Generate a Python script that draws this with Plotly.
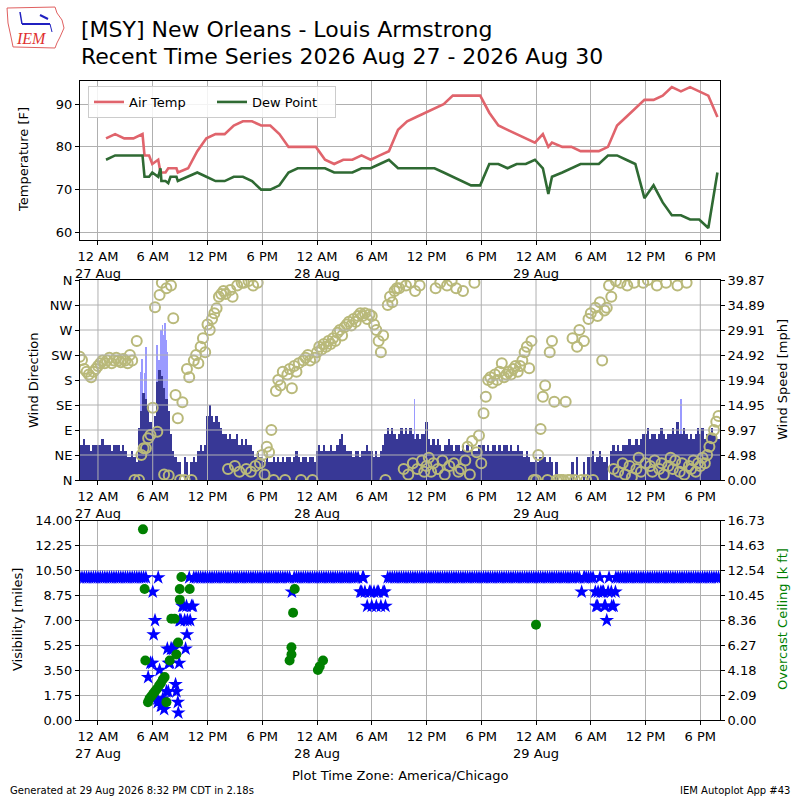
import numpy as np
import pandas as pd
import plotly.graph_objects as go

BASE = pd.Timestamp("2026-08-27 00:00")

# ---------------- data ----------------
# hours after 27 Aug 00:00 (America/Chicago)
temp_hours = [0.88, 1.88, 2.88, 3.88, 4.88, 5.1, 5.6, 5.95, 6.6, 6.85, 6.95, 7.4, 7.7, 7.95, 8.6, 8.75,
              9.88, 10.88, 11.88, 12.88, 13.88, 14.88, 15.88, 16.88, 17.88, 18.88, 19.88, 20.88, 21.88,
              22.88, 23.88, 24.88, 25.88, 26.88, 27.88, 28.88, 29.88, 30.88, 31.88, 32.88, 33.88, 34.88,
              35.88, 36.88, 37.88, 38.88, 39.88, 40.88, 41.88, 42.88, 43.88, 44.88, 45.88, 46.88, 47.88,
              48.75, 49.35, 49.75, 50.88, 51.88, 52.88, 53.88, 54.88, 55.88, 56.88, 57.88, 58.88, 59.88,
              60.88, 61.88, 62.88, 63.88, 64.88, 65.88, 66.88, 67.88]
air_temp = [82, 83, 82, 82, 83, 78, 78, 76, 77, 74, 74, 74, 75, 75, 75, 74,
            75, 79, 82, 83, 83, 85, 86, 86, 85, 85, 83, 80, 80,
            80, 80, 77, 76, 77, 77, 78, 77, 78, 79, 84, 86, 87,
            88, 89, 90, 92, 92, 92, 92, 88, 85, 84, 83, 82, 81,
            83, 80, 81, 80, 80, 79, 79, 79, 80, 85, 87, 89, 91,
            91, 92, 94, 93, 94, 93, 92, 87]
dew_point = [77, 78, 78, 78, 78, 73, 73, 74, 73, 75, 72, 72, 71.5, 73, 73, 72,
             73, 74, 73, 72, 72, 73, 73, 72, 70, 70, 71, 74, 75,
             75, 75, 75, 74, 74, 74, 75, 75, 76, 77, 75, 75, 75,
             75, 75, 74, 73, 72, 71, 71, 76, 76, 75, 76, 76, 77,
             75, 69, 73, 74, 75, 76, 76, 76, 78, 78, 77, 76, 68,
             71, 67, 64, 64, 63, 63, 61, 74]

# wind observations every 15 minutes, one row per hour starting 26 Aug 22:00 (hour -2)
wind_start_hour = -2
wind_speed_rows = [
    [6.9, 6.9, 8.1, 6.9], [6.9, 5.8, 6.9, 6.9], [6.9, 6.9, 8.1, 6.9], [6.9, 6.9, 5.8, 6.9],
    [6.9, 6.9, 5.8, 6.9], [5.8, 4.6, 4.6, 5.8], [4.6, 3.5, 10.4, 13.8], [17.3, 16.1, 14.9, 11.5],
    [10.4, 12.7, 19.6, 21.9], [20.7, 18.4, 16.1, 13.8], [9.2, 5.8, 4.6, 3.5], [3.5, 0, 4.6, 3.5],
    [0, 3.5, 4.6, 3.5], [5.8, 6.9, 5.8, 6.9], [12.7, 14.9, 12.7, 11.5], [12.7, 11.5, 10.4, 9.2],
    [9.2, 8.1, 9.2, 8.1], [8.1, 9.2, 6.9, 8.1], [6.9, 8.1, 6.9, 6.9], [5.8, 4.6, 5.8, 4.6],
    [4.6, 3.5, 4.6, 3.5], [3.5, 4.6, 3.5, 4.6], [3.5, 4.6, 3.5, 4.6], [4.6, 3.5, 4.6, 5.8],
    [4.6, 3.5, 4.6, 4.6], [3.5, 4.6, 4.6, 3.5], [5.8, 6.9, 5.8, 6.9], [5.8, 5.8, 6.9, 5.8],
    [5.8, 6.9, 8.1, 9.2], [6.9, 5.8, 5.8, 5.8], [4.6, 5.8, 5.8, 4.6], [5.8, 5.8, 6.9, 5.8],
    [5.8, 4.6, 5.8, 4.6], [5.8, 6.9, 9.2, 10.4], [9.2, 10.4, 9.2, 8.1], [9.2, 10.4, 9.2, 10.4],
    [9.2, 10.4, 9.2, 8.1], [9.2, 8.1, 9.2, 9.2], [11.5, 8.1, 6.9, 8.1], [6.9, 8.1, 6.9, 5.8],
    [6.9, 6.9, 8.1, 6.9], [5.8, 6.9, 6.9, 5.8], [6.9, 5.8, 6.9, 5.8], [6.9, 5.8, 5.8, 6.9],
    [6.9, 6.9, 5.8, 6.9], [5.8, 6.9, 6.9, 5.8], [6.9, 5.8, 6.9, 6.9], [5.8, 6.9, 5.8, 5.8],
    [6.9, 5.8, 5.8, 4.6], [5.8, 4.6, 3.5, 3.5], [4.6, 3.5, 4.6, 4.6], [4.6, 3.5, 4.6, 3.5],
    [0, 3.5, 0, 0], [0, 0, 0, 0], [3.5, 0, 4.6, 0], [0, 3.5, 0, 4.6],
    [4.6, 5.8, 3.5, 4.6], [5.8, 4.6, 3.5, 4.6], [0, 5.8, 6.9, 5.8], [6.9, 5.8, 6.9, 6.9],
    [6.9, 8.1, 6.9, 6.9], [8.1, 6.9, 8.1, 9.2], [9.2, 10.4, 8.1, 9.2], [9.2, 8.1, 9.2, 10.4],
    [9.2, 8.1, 9.2, 9.2], [10.4, 9.2, 11.5, 9.2], [9.2, 10.4, 9.2, 8.1], [9.2, 8.1, 9.2, 10.4],
    [9.2, 10.4, 8.1, 9.2], [9.2, 10.4, 9.2, 9.2], [8.1],
]
wind_dir_rows = [
    [222, 216, 200, 195], [190, 185, 195, 200], [205, 210, 215, 210], [215, 220, 210, 215],
    [220, 215, 212, 218], [215, 210, 225, 215], [0, 250, 0, 45], [57, 57, 75, 81],
    [130, 311, 87, 333], [355, 10, 345, 8], [350, 291, 153, 111], [0, 140, 0, 200],
    [185, 0, 215, 225], [210, 240, 255, 230], [280, 270, 290, 300], [309, 330, 335, 340],
    [335, 20, 342, 330], [25, 350, 15, 355], [355, 20, 358, 15], [350, 25, 355, 30],
    [45, 10, 60, 50], [90, 0, 160, 180], [170, 195, 0, 190], [200, 165, 205, 195],
    [210, 0, 215, 220], [225, 215, 0, 220], [230, 240, 235, 245], [240, 250, 245, 255],
    [250, 265, 270, 260], [275, 280, 285, 278], [290, 285, 295, 300], [295, 300, 290, 298],
    [295, 280, 270, 250], [230, 260, 0, 315], [330, 320, 340, 345], [345, 355, 20, 350],
    [10, 355, 30, 340], [20, 350, 35, 15], [25, 40, 15, 30], [345, 20, 355, 35],
    [10, 350, 25, 358], [30, 345, 15, 20], [340, 35, 60, 10], [70, 355, 50, 80],
    [30, 120, 150, 180], [185, 175, 190, 180], [195, 210, 185, 190], [195, 190, 200, 205],
    [195, 205, 215, 230], [240, 201, 250, 0], [0, 45, 92, 150], [170, 0, 230, 250],
    [141, 0, 0, 0], [0, 141, 0, 0], [255, 0, 240, 270], [0, 250, 0, 290],
    [300, 0, 310, 295], [320, 215, 305, 310], [350, 330, 20, 358], [15, 355, 30, 10],
    [350, 25, 5, 355], [20, 40, 15, 355], [30, 360, 25, 15], [35, 350, 20, 30],
    [10, 355, 25, 40], [20, 35, 350, 15], [30, 10, 355, 25], [20, 35, 15, 30],
    [25, 40, 30, 45], [60, 75, 90, 105], [115],
]
gust_hours = [4.7, 4.85, 5.1, 5.25, 6.45, 6.7, 6.9, 7.05, 7.2, 7.35, 7.5, 7.6, 34.7, 63.9]
gust_mph = [21.6, 24.1, 21.3, 26.6, 26.9, 23.9, 29.9, 30.9, 29.0, 31.2, 28.0, 25.6, 16.1, 16.1]

# visibility every 15 minutes (same slots as wind), miles
vis_rows = [
    [10, 10, 10, 10], [10, 10, 10, 10], [10, 10, 10, 10], [10, 10, 10, 10],
    [10, 10, 10, 10], [10, 10, 10, 10], [10, 10, 10, 10], [10, 10, 3, 4],
    [9, 7, 1.5, 3.5], [1.0, 0.75, 2, 4], [5, 5, 2.5, 1.25], [7, 8, 7, 6],
    [10, 8, 10, 10], [10, 10, 10, 10], [10, 10, 10, 10], [10, 10, 10, 10],
    [10, 10, 10, 10], [10, 10, 10, 10], [10, 10, 10, 10], [10, 10, 10, 10],
    [10, 10, 10, 10], [10, 10, 10, 10], [10, 10, 10, 10], [10, 9, 10, 10],
    [10, 10, 10, 10], [10, 10, 10, 10], [10, 10, 10, 10], [10, 10, 10, 10],
    [10, 10, 10, 10], [10, 10, 10, 10], [10, 10, 10, 9], [10, 9, 8, 9],
    [8, 9, 8, 9], [8, 9, 8, 10], [10, 10, 10, 10], [10, 10, 10, 10],
    [10, 10, 10, 10], [10, 10, 10, 10], [10, 10, 10, 10], [10, 10, 10, 10],
    [10, 10, 10, 10], [10, 10, 10, 10], [10, 10, 10, 10], [10, 10, 10, 10],
    [10, 10, 10, 10], [10, 10, 10, 10], [10, 10, 10, 10], [10, 10, 10, 10],
    [10, 10, 10, 10], [10, 10, 10, 10], [10, 10, 10, 10], [10, 10, 10, 10],
    [10, 10, 10, 10], [10, 10, 10, 10], [10, 10, 10, 10], [9, 10, 10, 10],
    [10, 10, 9, 8], [10, 9, 8, 7], [10, 9, 8, 10], [10, 10, 10, 10],
    [10, 10, 10, 10], [10, 10, 10, 10], [10, 10, 10, 10], [10, 10, 10, 10],
    [10, 10, 10, 10], [10, 10, 10, 10], [10, 10, 10, 10], [10, 10, 10, 10],
    [10, 10, 10, 10], [10, 10, 10, 10], [10],
]
vis_extra_hours = [5.95, 6.1, 6.55, 6.6, 6.9, 7.1, 7.6, 7.7, 7.9, 8.1, 8.3, 8.6, 8.8, 8.9, 8.95, 9.1,
                   9.4, 9.6, 9.7, 9.8, 10.1, 10.4, 28.9, 29.1, 29.9, 30.6, 31.4, 53.3, 54.6, 54.8,
                   55.1, 55.4, 55.6, 55.9, 56.3, 56.7]
vis_extra_miles = [4, 6, 1.25, 10, 1.0, 1.5, 5, 2, 4, 5, 5, 2, 0.5, 4, 7, 7,
                   8, 5, 8, 7, 7, 8, 9, 10, 9, 9, 9, 10, 8, 9,
                   9, 9, 8, 9, 8, 9]
ceil_hours = [4.93, 5.11, 5.19, 5.48, 5.65, 5.85, 6.05, 6.25, 6.45, 6.7, 6.9, 7.1, 7.3, 7.5, 7.86, 8.04,
              8.4, 8.59, 8.78, 8.96, 8.96, 9.14, 10.05, 21.0, 21.2, 21.2, 21.38, 21.56, 24.1, 24.3,
              24.66, 48.0]
ceil_kft = [16.0, 11.0, 5.0, 1.5, 1.8, 2.0, 2.2, 2.4, 2.6, 2.9, 3.1, 3.4, 3.6, 1.5, 5.0, 8.5,
            8.5, 5.5, 6.5, 10.1, 11.0, 12.0, 11.0, 5.0, 5.5, 6.1, 9.0, 11.0, 4.2, 4.5,
            5.0, 8.0]

tick_hours = [0, 6, 12, 18, 24, 30, 36, 42, 48, 54, 60, 66]
tick_labels = ["12 AM<br>27 Aug", "6 AM", "12 PM", "6 PM", "12 AM<br>28 Aug", "6 AM", "12 PM",
               "6 PM", "12 AM<br>29 Aug", "6 AM", "12 PM", "6 PM"]
temp_ticks = [60, 70, 80, 90]
dir_ticks = [0, 45, 90, 135, 180, 225, 270, 315, 360]
dir_labels = ["N", "NE", "E", "SE", "S", "SW", "W", "NW", "N"]
speed_max = 39.87
speed_labels = ["0.00", "4.98", "9.97", "14.95", "19.94", "24.92", "29.91", "34.89", "39.87"]
vis_ticks = [0, 1.75, 3.5, 5.25, 7.0, 8.75, 10.5, 12.25, 14.0]
vis_labels = ["0.00", "1.75", "3.50", "5.25", "7.00", "8.75", "10.50", "12.25", "14.00"]
ceil_max = 16.726
ceil_labels = ["0.00", "2.09", "4.18", "6.27", "8.36", "10.45", "12.54", "14.63", "16.73"]


def t(hours):
    return [BASE + pd.Timedelta(hours=float(h)) for h in hours]


def flat(rows):
    return [v for r in rows for v in r]


wind_speed = flat(wind_speed_rows)
wind_dir = flat(wind_dir_rows)
vis = flat(vis_rows)
slot_hours = [wind_start_hour + 0.25 * i for i in range(len(wind_speed))]
slot_times = t(slot_hours)

FONT = "DejaVu Sans"
GRID = "#b0b0b0"
X_RANGE = t([-1.97, 68.16])
TICKVALS = t(tick_hours)


def px(x):
    return x / 800.0


def py(y):
    return 1 - y / 800.0


fig = go.Figure()

# ---- panel 1: temperature ----
fig.add_trace(go.Scatter(x=t(temp_hours), y=air_temp, mode="lines", name="Air Temp",
                         line=dict(color="#e0646c", width=2.6), xaxis="x", yaxis="y"))
fig.add_trace(go.Scatter(x=t(temp_hours), y=dew_point, mode="lines", name="Dew Point",
                         line=dict(color="#2f6a33", width=2.6), xaxis="x", yaxis="y"))

# ---- panel 2: wind ----
fig.add_trace(go.Bar(x=t(gust_hours), y=gust_mph, width=4 * 60 * 1000,
                     marker=dict(color="#9a9aff", line=dict(width=0)),
                     showlegend=False, xaxis="x2", yaxis="y3"))
fig.add_trace(go.Bar(x=slot_times, y=wind_speed, width=15 * 60 * 1000,
                     marker=dict(color="#383896", line=dict(width=0)),
                     showlegend=False, xaxis="x2", yaxis="y3"))
fig.add_trace(go.Scatter(x=slot_times, y=wind_dir, mode="markers",
                         marker=dict(symbol="circle-open", size=10, color="#b9b97a",
                                     line=dict(width=2, color="#b9b97a")),
                         showlegend=False, xaxis="x2", yaxis="y4"))

# ---- panel 3: visibility / ceiling ----
fig.add_trace(go.Scatter(x=slot_times + t(vis_extra_hours), y=vis + vis_extra_miles, mode="markers",
                         marker=dict(symbol="star", size=11, color="#0000ff", line=dict(width=0)),
                         showlegend=False, xaxis="x3", yaxis="y5"))
fig.add_trace(go.Scatter(x=t(ceil_hours), y=ceil_kft, mode="markers",
                         marker=dict(symbol="circle", size=10, color="#008000", line=dict(width=0)),
                         showlegend=False, xaxis="x3", yaxis="y6"))

xcommon = dict(range=X_RANGE, tickvals=TICKVALS, ticktext=tick_labels, ticks="outside", ticklen=4,
               tickcolor="black", showline=True, linecolor="black", linewidth=1, mirror=True,
               showgrid=True, gridcolor=GRID, gridwidth=1, zeroline=False,
               tickfont=dict(size=13, color="black", family=FONT), domain=[0.1, 0.9],
               automargin=False, type="date")
ycommon = dict(ticks="outside", ticklen=4, tickcolor="black", showline=True, linecolor="black",
               linewidth=1, zeroline=False, tickfont=dict(size=13, color="black", family=FONT),
               automargin=False)

fig.update_layout(
    width=800, height=800, margin=dict(l=0, r=0, t=0, b=0), autosize=False,
    paper_bgcolor="white", plot_bgcolor="white", barmode="overlay", bargap=0,
    font=dict(family=FONT, size=13, color="black"),
    xaxis=dict(xcommon, anchor="y"),
    yaxis=dict(ycommon, domain=[py(240), py(80.7)], range=[58.2, 95.5], tickvals=temp_ticks,
               showgrid=True, gridcolor=GRID, mirror=True, anchor="x"),
    xaxis2=dict(xcommon, anchor="y3", showgrid=False),
    yaxis3=dict(ycommon, domain=[py(480), py(280)], range=[0, speed_max], side="right",
                tickvals=[speed_max * i / 8 for i in range(9)], ticktext=speed_labels,
                showgrid=False, anchor="x2"),
    yaxis4=dict(ycommon, overlaying="y3", side="left", range=[0, 360], tickvals=dir_ticks,
                ticktext=dir_labels, showgrid=False, anchor="x2"),
    xaxis3=dict(xcommon, anchor="y5"),
    yaxis5=dict(ycommon, domain=[py(720), py(520.7)], range=[0, 14], tickvals=vis_ticks,
                ticktext=vis_labels, showgrid=True, gridcolor=GRID, anchor="x3"),
    yaxis6=dict(ycommon, overlaying="y5", side="right", range=[0, ceil_max],
                tickvals=[ceil_max * i / 8 for i in range(9)], ticktext=ceil_labels,
                showgrid=False, anchor="x3"),
    legend=dict(x=px(88), y=py(86), xanchor="left", yanchor="top", orientation="h",
                bordercolor="#cccccc", borderwidth=1, bgcolor="rgba(255,255,255,0.85)",
                font=dict(size=13, family=FONT), itemwidth=30, entrywidth=78,
                entrywidthmode="pixels", tracegroupgap=0),
    showlegend=True,
)

shapes = []
# grid lines drawn over the wind bars
for d in dir_ticks[1:-1]:
    shapes.append(dict(type="line", xref="x2 domain", x0=0, x1=1, yref="y4", y0=d, y1=d,
                       line=dict(color=GRID, width=1), layer="above"))
for tv in TICKVALS:
    shapes.append(dict(type="line", xref="x2", x0=tv, x1=tv, yref="y4 domain", y0=0, y1=1,
                       line=dict(color=GRID, width=1), layer="above"))

# IEM logo (outline of Iowa + text)
iowa = [(7, 8), (55, 7), (57, 13), (62, 20), (64, 28), (60, 37), (57, 43), (55, 48), (13, 47),
        (11, 37), (8, 23)]
path = "M " + " L ".join(f"{px(a):.4f},{py(b):.4f}" for a, b in iowa) + " Z"
shapes.append(dict(type="path", xref="paper", yref="paper", path=path,
                   line=dict(color="#e06060", width=1), fillcolor="rgba(0,0,0,0)"))
shapes.append(dict(type="line", xref="paper", yref="paper", x0=px(22), x1=px(50), y0=py(24), y1=py(24),
                   line=dict(color="#2020c0", width=2)))
shapes.append(dict(type="line", xref="paper", yref="paper", x0=px(20), x1=px(22), y0=py(12), y1=py(24),
                   line=dict(color="#2020c0", width=1.5)))
shapes.append(dict(type="line", xref="paper", yref="paper", x0=px(40), x1=px(48), y0=py(15), y1=py(19),
                   line=dict(color="#2020c0", width=2)))
shapes.append(dict(type="line", xref="paper", yref="paper", x0=px(50), x1=px(52), y0=py(24), y1=py(32),
                   line=dict(color="#2020c0", width=1)))
fig.update_layout(shapes=shapes)


def ann(text, x, y, size=13, color="black", xanchor="center", yanchor="middle", angle=0, family=FONT):
    return dict(text=text, x=px(x), y=py(y), xref="paper", yref="paper", showarrow=False,
                xanchor=xanchor, yanchor=yanchor, textangle=angle,
                font=dict(size=size, color=color, family=family))


annotations = [
    ann("[MSY] New Orleans - Louis Armstrong", 79, 30, size=22, xanchor="left"),
    ann("Recent Time Series 2026 Aug 27 - 2026 Aug 30", 79, 56, size=22, xanchor="left"),
    ann("<i>IEM</i>", 31, 39, size=16, color="#e03030", family="Liberation Serif"),
    ann("Temperature [F]", 24, 160, angle=-90),
    ann("Wind Direction", 33, 380, angle=-90),
    ann("Wind Speed [mph]", 782, 380, angle=-90),
    ann("Visibility [miles]", 17, 620, angle=-90),
    ann("Overcast Ceiling [k ft]", 782, 619, angle=-90, color="#008000"),
    ann("Plot Time Zone: America/Chicago", 400, 775),
    ann("Generated at 29 Aug 2026 8:32 PM CDT in 2.18s", 8, 790, size=10, xanchor="left"),
    ann("IEM Autoplot App #43", 792, 790, size=10, xanchor="right"),
]
fig.update_layout(annotations=annotations)

fig.write_html("out.html", config={"displayModeBar": False},
               post_script="document.body.style.margin='0';")
